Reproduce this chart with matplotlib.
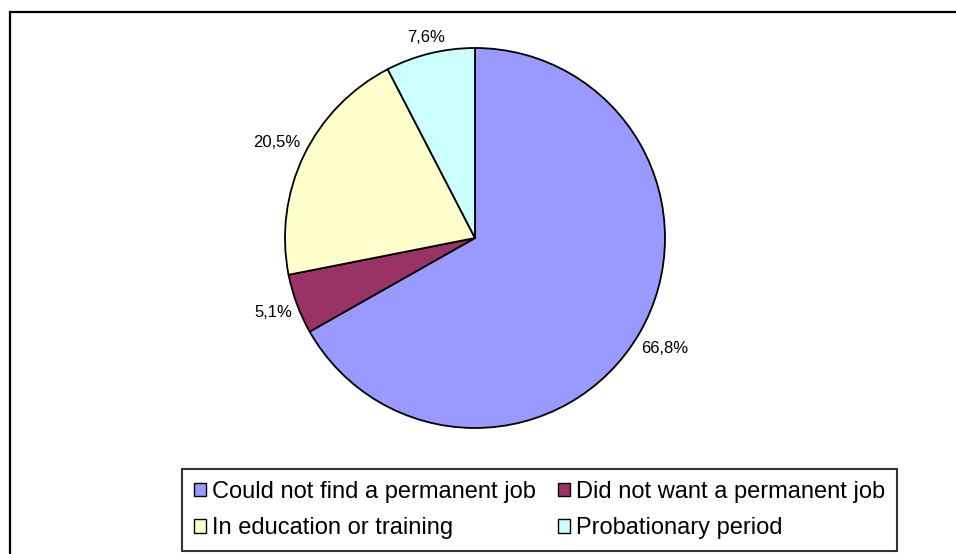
import numpy as np
import matplotlib.pyplot as plt
from matplotlib.patches import Patch, Rectangle

# share of temporary employees by reason (%)
reasons = ["Could not find a permanent job", "Did not want a permanent job",
           "In education or training", "Probationary period"]
shares = [66.8, 5.1, 20.5, 7.6]
colours = ["#9999FF", "#993366", "#FFFFCC", "#CCFFFF"]
title = "Figure 3: Reasons for having a temporary job (%)"

plt.rcParams['font.family'] = ['Liberation Sans', 'DejaVu Sans']

W, H = 956, 554
fig = plt.figure(figsize=(W / 100, H / 100), dpi=100)

# heading sits above the page, only its descenders show
fig.text(96 / W, 1 + 5 / H, title, family='Liberation Serif', weight='bold',
         fontsize=14, ha='left', va='baseline')

# outer frame (right and bottom edges fall outside the page)
fig.patches.append(Rectangle((10 / W, -0.05), 1.0, 1 - 12 / H + 0.05,
                             transform=fig.transFigure, fill=False,
                             edgecolor='black', linewidth=1.6))

# pie: centre (475, 238), radius 190 px
cx, cy, r = 475, 238, 190
ax = fig.add_axes([(cx - r) / W, (H - cy - r) / H, 2 * r / W, 2 * r / H])
wedges, texts, autotexts = ax.pie(
    shares, colors=colours, startangle=90, counterclock=False, radius=1,
    autopct=lambda p: f"{p:.1f}%".replace('.', ','), pctdistance=1.15,
    wedgeprops=dict(edgecolor='black', linewidth=1.3),
    textprops=dict(fontsize=12, color='black'))
ax.set_xlim(-1, 1)
ax.set_ylim(-1, 1)
ax.set_aspect('auto')

# push each value label just outside the rim, clear of its own box
fig.canvas.draw()
renderer = fig.canvas.get_renderer()
gap = 5
for w, t in zip(wedges, autotexts):
    ang = np.deg2rad((w.theta1 + w.theta2) / 2)
    bb = t.get_window_extent(renderer)
    hw, hh = bb.width / 2, bb.height / 2
    d = r + gap + abs(np.cos(ang)) * hw + abs(np.sin(ang)) * hh
    t.set_position((d / r * np.cos(ang), d / r * np.sin(ang)))
    t.set_ha('center')
    t.set_va('center')

# legend fills column-wise, so reorder to read across rows
order = [0, 2, 1, 3]
handles = [Patch(facecolor=colours[i], edgecolor='black', linewidth=1.0) for i in order]
labels = [reasons[i] for i in order]
leg = fig.legend(handles, labels, ncol=2, loc='lower left', mode='expand',
                 bbox_to_anchor=(182 / W, 3 / H, 715 / W, 86 / H), fontsize=17,
                 frameon=True, fancybox=False, shadow=False, borderpad=0.5,
                 handlelength=0.5, handleheight=0.5, handletextpad=0.25,
                 labelspacing=0.6, columnspacing=0.2, borderaxespad=0)
leg.get_frame().set_edgecolor('black')
leg.get_frame().set_linewidth(1.5)

fig.savefig("out.png", dpi=100)
